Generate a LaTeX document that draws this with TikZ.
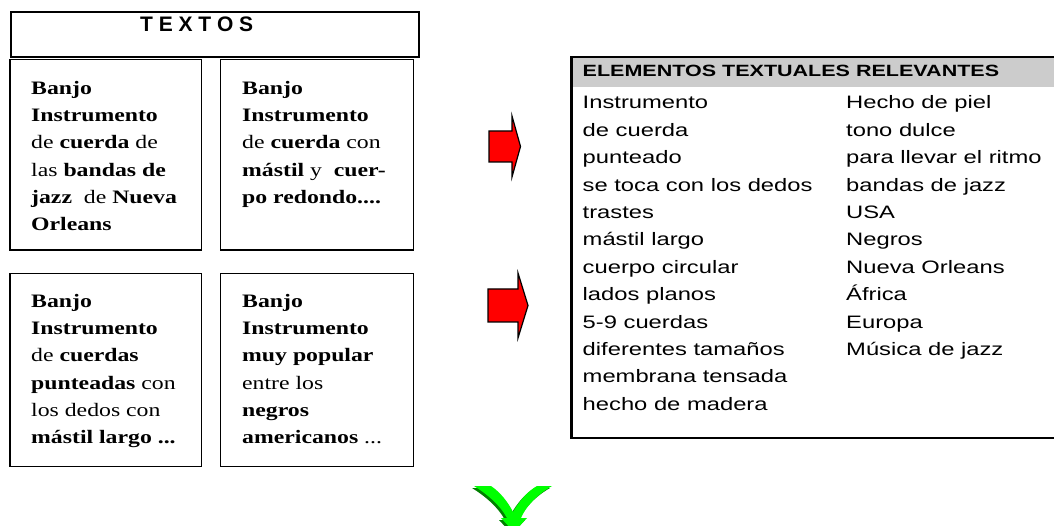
\documentclass[tikz,border=0pt]{standalone}
\usepackage{fontspec}
\newfontfamily\tms{Liberation Serif}[FakeStretch=1.25]
\newfontfamily\arl{Liberation Sans}[FakeStretch=1.32]
\newfontfamily\arlplain{Liberation Sans}
\definecolor{hdrgrey}{RGB}{204,204,204}
\definecolor{arrred}{RGB}{255,0,0}
\definecolor{gbright}{RGB}{0,255,0}
\definecolor{gdark}{RGB}{0,128,0}
\tikzset{
  framebox/.style={draw=black, line width=1.5pt, anchor=north west, inner sep=0pt, outer sep=0pt},
  boxtext/.style={anchor=north west, inner sep=0pt, align=left, font=\tms\fontsize{19}{27.3}\selectfont},
  reltext/.style={anchor=north west, inner sep=0pt, align=left, font=\arl\fontsize{18}{27.4}\selectfont},
  redarrow/.style={fill=arrred, draw=black, line width=1.2pt, line join=miter},
}
\begin{document}
\begin{tikzpicture}[x=1pt,y=-1pt]
\useasboundingbox (0,0) rectangle (1054,526);
\clip (0,0) rectangle (1054,526);
% TEXTOS header box
\node[framebox, minimum width=408pt, minimum height=45pt] (textos) at (11,12) {};
\node[anchor=base west, inner sep=0pt, font=\arlplain\bfseries\fontsize{21}{25}\selectfont] (tt) at (140,31.7)
  {T\hspace{5.8pt}E\hspace{5.8pt}X\hspace{5.8pt}T\hspace{5.8pt}O\hspace{5.8pt}S};
% four text boxes
\node[framebox, minimum width=191.5pt, minimum height=190.5pt] (b1) at (10,59.5) {};
\node[framebox, minimum width=193pt, minimum height=190.5pt] (b2) at (220.3,59.5) {};
\node[framebox, minimum width=191.5pt, minimum height=193.4pt] (b3) at (10,273.3) {};
\node[framebox, minimum width=193pt, minimum height=193.4pt] (b4) at (220.3,273.3) {};
\node[boxtext] (t1) at (31,74.9) {\strut\textbf{Banjo}\\\textbf{Instrumento}\\de \textbf{cuerda} de\\las \textbf{bandas de}\\\textbf{jazz}\ \ de \textbf{Nueva}\\\textbf{Orleans}};
\node[boxtext] (t2) at (242,74.9) {\strut\textbf{Banjo}\\\textbf{Instrumento}\\de \textbf{cuerda} con\\\textbf{mástil} y\ \ \textbf{cuer-}\\\textbf{po redondo....}};
\node[boxtext] (t3) at (31,287.9) {\strut\textbf{Banjo}\\\textbf{Instrumento}\\de \textbf{cuerdas}\\\textbf{punteadas} con\\los dedos con\\\textbf{mástil largo ...}};
\node[boxtext] (t4) at (242,287.9) {\strut\textbf{Banjo}\\\textbf{Instrumento}\\\textbf{muy popular}\\entre los\\\textbf{negros}\\\textbf{americanos} ...};
% red arrows
\draw[redarrow] (489,131) -- (512,131) -- (512,116) -- (520.5,146.5) -- (512,177) -- (512,162) -- (489,162) -- cycle;
\draw[redarrow] (488,289) -- (518,289) -- (518,273) -- (528,305.5) -- (518,338) -- (518,322) -- (488,322) -- cycle;
% relevant elements box
\node[anchor=north west, inner sep=0pt, outer sep=0pt, minimum width=500pt, minimum height=381pt] (rel) at (571.5,57) {};
\fill[hdrgrey] (rel.north west) rectangle ([yshift=-30pt]rel.north east);
\draw[line width=2.3pt] (rel.north east) -- (rel.north west) -- (rel.south west) -- (rel.south east);
\node[anchor=base west, inner sep=0pt, font=\arl\bfseries\fontsize{16.3}{20}\selectfont] (hdr) at (582.5,77) {ELEMENTOS TEXTUALES RELEVANTES};
\node[reltext] (c1) at (582.5,89.6) {\strut Instrumento\\de cuerda\\punteado\\se toca con los dedos\\trastes\\mástil largo\\cuerpo circular\\lados planos\\5-9 cuerdas\\diferentes tamaños\\membrana tensada\\hecho de madera};
\node[reltext] (c2) at (846,89.6) {\strut Hecho de piel\\tono dulce\\para llevar el ritmo\\bandas de jazz\\USA\\Negros\\Nueva Orleans\\África\\Europa\\Música de jazz};
% green curved arrow
\begin{scope}[shift={(-2,2)}]
\fill[gdark] (474,486) -- (491,486) .. controls (500,492) and (508,502) .. (513,512)
  .. controls (520,500) and (528,491) .. (537,486) -- (552,486)
  .. controls (538,494) and (526,506) .. (521,518) -- (527,518) -- (514,532) -- (501,518) -- (507,518)
  .. controls (500,505) and (487,494) .. (474,486) -- cycle;
\end{scope}
\fill[gbright] (474,486) -- (491,486) .. controls (500,492) and (508,502) .. (513,512)
  .. controls (520,500) and (528,491) .. (537,486) -- (552,486)
  .. controls (538,494) and (526,506) .. (521,518) -- (527,518) -- (514,532) -- (501,518) -- (507,518)
  .. controls (500,505) and (487,494) .. (474,486) -- cycle;
\end{tikzpicture}
\end{document}
